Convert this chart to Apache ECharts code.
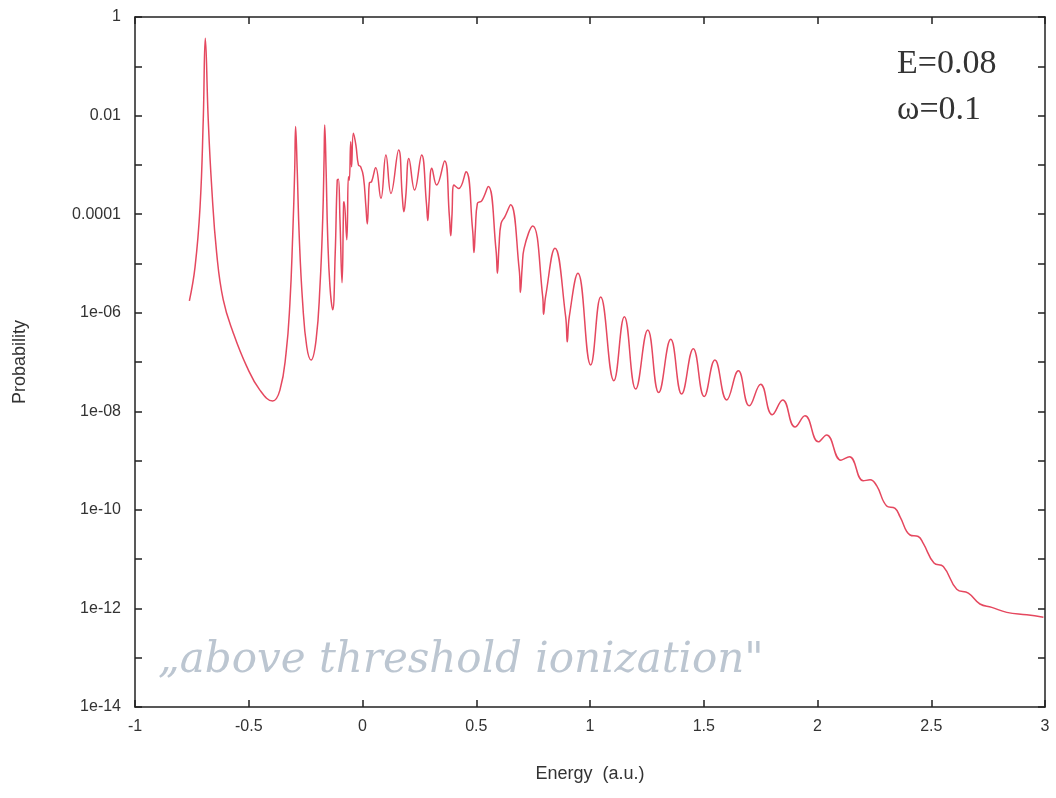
<!DOCTYPE html>
<html>
<head>
<meta charset="utf-8">
<script src="https://cdn.jsdelivr.net/npm/echarts@6/dist/echarts.min.js"></script>
<style>html,body{margin:0;padding:0;background:#fff}#c{width:1056px;height:798px}</style>
</head>
<body>
<div id="c"></div>
<script>
const energy = [
 -0.761,-0.736,-0.714,-0.700,-0.691,-0.678,-0.663,-0.641,-0.612,-0.568,-0.509,-0.451,-0.395,-0.363,-0.336,-0.319,-0.307,-0.298,-0.294,-0.287,
 -0.278,-0.263,-0.245,-0.226,-0.204,-0.187,-0.175,-0.169,-0.166,-0.160,-0.153,-0.143,-0.131,-0.120,-0.111,-0.106,-0.099,-0.090,-0.083,-0.081,
 -0.069,-0.062,-0.058,-0.052,-0.048,-0.040,-0.029,-0.018,-0.008,0.004,0.015,0.021,0.026,0.030,0.040,0.058,0.081,0.103,0.125,0.159,
 0.175,0.182,0.190,0.204,0.229,0.260,0.281,0.287,0.292,0.305,0.326,0.361,0.382,0.388,0.393,0.402,0.423,0.455,0.484,0.490,
 0.496,0.505,0.524,0.553,0.587,0.593,0.600,0.609,0.626,0.651,0.689,0.694,0.702,0.710,0.748,0.792,0.796,0.805,0.846,0.893,
 0.900,0.909,0.947,1.003,1.047,1.105,1.151,1.201,1.254,1.302,1.355,1.403,1.454,1.502,1.549,1.601,1.652,1.700,1.750,1.801,
 1.847,1.901,1.945,2.004,2.040,2.103,2.140,2.201,2.231,2.260,2.304,2.341,2.363,2.407,2.443,2.465,2.512,2.553,2.612,2.663,
 2.714,2.766,2.832,2.920,2.993
];
const probability = [
 1.74e-6,8.5e-6,1.41e-4,8.13e-3,0.372,8.13e-3,3.63e-4,1.62e-5,1.82e-6,3.89e-7,8.13e-8,2.69e-8,1.62e-8,2.69e-8,1.51e-7,1.58e-6,3.47e-5,7.94e-4,6.03e-3,7.94e-4,
 3.47e-5,1.58e-6,2.04e-7,1.10e-7,2.82e-7,3.39e-6,7.59e-5,1.26e-3,6.46e-3,7.94e-4,3.47e-5,3.39e-6,1.15e-6,1.58e-5,4.90e-4,5.13e-4,7.59e-5,4.07e-6,1.66e-4,1.78e-4,
 3.02e-5,5.75e-4,4.90e-4,2.95e-3,9.12e-4,4.37e-3,2.51e-3,1.0e-3,9.12e-4,5.75e-4,1.41e-4,6.31e-5,1.66e-4,4.27e-4,4.57e-4,8.71e-4,2.09e-4,1.58e-3,2.63e-4,2.0e-3,
 2.24e-4,1.12e-4,2.24e-4,1.35e-3,3.09e-4,1.58e-3,1.66e-4,7.41e-5,1.66e-4,8.51e-4,3.89e-4,1.20e-3,8.91e-5,3.63e-5,8.91e-5,3.89e-4,3.31e-4,7.24e-4,4.79e-5,1.66e-5,
 4.79e-5,1.66e-4,1.86e-4,3.63e-4,1.86e-5,6.31e-6,2.19e-5,6.46e-5,8.91e-5,1.55e-4,7.41e-6,2.57e-6,8.51e-6,2.0e-5,5.75e-5,2.14e-6,9.33e-7,2.14e-6,2.04e-5,8.32e-7,
 2.57e-7,8.32e-7,6.31e-6,8.71e-8,2.09e-6,4.17e-8,8.32e-7,2.82e-8,4.47e-7,2.40e-8,2.88e-7,2.24e-8,1.86e-7,2.0e-8,1.10e-7,1.70e-8,6.61e-8,1.29e-8,3.55e-8,8.51e-9,
 1.70e-8,4.79e-9,8.13e-9,2.40e-9,3.31e-9,1.02e-9,1.20e-9,3.89e-10,4.07e-10,3.09e-10,1.20e-10,1.07e-10,7.24e-11,3.09e-11,2.88e-11,2.09e-11,8.32e-12,7.08e-12,2.45e-12,2.04e-12,
 1.23e-12,1.05e-12,8.32e-13,7.41e-13,6.61e-13
];
const yTickLabels = {'0':'1','-2':'0.01','-4':'0.0001','-6':'1e-06','-8':'1e-08','-10':'1e-10','-12':'1e-12','-14':'1e-14'};
const annotationLines = ['E=0.08','ω=0.1'];
const handNote = '„above threshold ionization"';

const chart = echarts.init(document.getElementById('c'));
const axisLine = {show:true, onZero:false, lineStyle:{color:'#222', width:1.5}};
const tickIn = {show:true, inside:true, length:7, lineStyle:{color:'#222', width:1.5}};
const labelFont = {fontFamily:'Liberation Sans', fontSize:16, color:'#333'};
chart.setOption({
  animation:false,
  backgroundColor:'#fff',
  grid:{left:135, right:11, top:17, bottom:91},
  xAxis:[{
    type:'value', min:-1, max:3, interval:0.5, position:'bottom',
    name:'Energy  (a.u.)', nameLocation:'middle', nameGap:58,
    nameTextStyle:{fontFamily:'Liberation Sans', fontSize:18, color:'#333'},
    axisLine:axisLine, axisTick:tickIn, splitLine:{show:false},
    axisLabel:Object.assign({margin:12, formatter:v=>String(v)}, labelFont)
  },{
    type:'value', position:'top', min:-1, max:3, interval:0.5,
    axisLine:axisLine, axisTick:tickIn, splitLine:{show:false}, axisLabel:{show:false}
  }],
  yAxis:[{
    type:'log', logBase:10, min:1e-14, max:1, interval:1, position:'left',
    name:'Probability', nameLocation:'middle', nameGap:106,
    nameTextStyle:{fontFamily:'Liberation Sans', fontSize:18, color:'#333'},
    axisLine:axisLine, axisTick:tickIn, splitLine:{show:false},
    axisLabel:Object.assign({margin:14, formatter:function(v){
      const e = Math.round(Math.log10(v));
      return yTickLabels[String(e)] || '';
    }}, labelFont)
  },{
    type:'log', logBase:10, min:1e-14, max:1, interval:1, position:'right',
    axisLine:axisLine, axisTick:tickIn, splitLine:{show:false}, axisLabel:{show:false}
  }],
  graphic:[
    {type:'text', left:897, top:47, style:{text:annotationLines[0], fontFamily:'Liberation Serif', fontSize:34, fill:'#333'}},
    {type:'text', left:897, top:93, style:{text:annotationLines[1], fontFamily:'Liberation Serif', fontSize:34, fill:'#333'}},
    {type:'text', left:158, top:640, style:{text:handNote, fontFamily:'DejaVu Serif', fontStyle:'italic', fontSize:42, fill:'#bcc6d1'}}
  ],
  series:[{
    type:'line', xAxisIndex:0, yAxisIndex:0,
    data: energy.map((e,i)=>[e, probability[i]]),
    showSymbol:false, smooth:0.45,
    lineStyle:{color:'#e5485f', width:1.5}
  }]
});
</script>
</body>
</html>
